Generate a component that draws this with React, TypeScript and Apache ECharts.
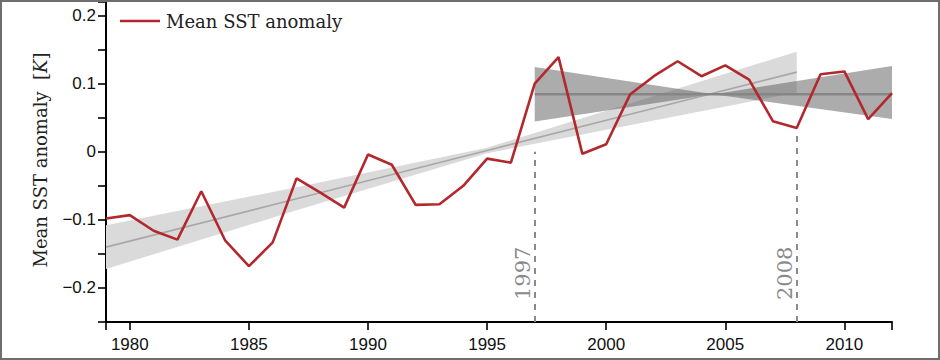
import React, { useEffect, useRef } from "react";
import * as echarts from "echarts";

const years = [
  1979, 1980, 1981, 1982, 1983, 1984, 1985, 1986, 1987, 1988, 1989, 1990,
  1991, 1992, 1993, 1994, 1995, 1996, 1997, 1998, 1999, 2000, 2001, 2002,
  2003, 2004, 2005, 2006, 2007, 2008, 2009, 2010, 2011, 2012,
];
const sstAnomaly = [
  -0.098, -0.093, -0.116, -0.129, -0.058, -0.13, -0.168, -0.133, -0.039,
  -0.06, -0.082, -0.004, -0.019, -0.078, -0.077, -0.05, -0.01, -0.016, 0.1,
  0.139, -0.003, 0.011, 0.084, 0.111, 0.133, 0.111, 0.127, 0.106, 0.045,
  0.035, 0.114, 0.118, 0.048, 0.086,
];

// long-term trend 1979-2008 and its band
const longYears = [1979, 1987, 1995, 2002, 2008];
const longTrend = [-0.14, -0.069, 0.002, 0.064, 0.117];
const longUpper = [-0.108, -0.052, 0.006, 0.082, 0.147];
const longLower = [-0.172, -0.086, -0.002, 0.046, 0.087];

// short-term trend 1997-2012 and its band
const shortYears = [1997, 2004.5, 2012];
const shortTrend = [0.0845, 0.0845, 0.0845];
const shortUpper = [0.1245, 0.0845, 0.126];
const shortLower = [0.0445, 0.0845, 0.048];

// marked years and the top of their dashed lines
const markYears = [1997, 2008];
const markTops = [0.0, 0.025];

const xLabelValues = [1980, 1985, 1990, 1995, 2000, 2005, 2010];
const yLabelValues = [-0.2, -0.1, 0, 0.1, 0.2];

const X_MIN = 1979;
const X_MAX = 2012;
const Y_MIN = -0.25;
const Y_MAX = 0.22;

const SANS = "'Liberation Sans', Arial, Helvetica, sans-serif";
const SERIF = "'DejaVu Serif', 'Liberation Serif', serif";

function bandSeries(xs: number[], up: number[], lo: number[], fill: string, z: number) {
  return {
    type: "custom",
    silent: true,
    z,
    data: [[xs[0], up[0]]],
    renderItem: (_params: any, api: any) => {
      const pts: number[][] = [];
      for (let i = 0; i < xs.length; i++) pts.push(api.coord([xs[i], up[i]]));
      for (let i = xs.length - 1; i >= 0; i--) pts.push(api.coord([xs[i], lo[i]]));
      return {
        type: "polygon",
        shape: { points: pts },
        style: { fill, stroke: "none" },
      };
    },
  };
}

export default function App() {
  const ref = useRef<HTMLDivElement>(null);

  useEffect(() => {
    if (!ref.current) return;
    const chart = echarts.init(ref.current, null, { renderer: "svg" });
    const fmtY = (v: number) => {
      if (Math.abs(v) < 1e-9) return "0";
      return (v < 0 ? "\u2212" : "") + Math.abs(v).toFixed(1);
    };
    chart.setOption({
      animation: false,
      backgroundColor: "#ffffff",
      grid: { left: 106, right: 48, top: 2, bottom: 38 },
      legend: {
        data: ["Mean SST anomaly"],
        left: 120,
        top: 12,
        padding: 0,
        icon: "rect",
        itemWidth: 40,
        itemHeight: 2.6,
        textStyle: { fontFamily: SERIF, fontSize: 18, color: "#222", padding: [0, 0, 0, 1] },
      },
      graphic: [
        {
          type: "rect",
          silent: true,
          z: 100,
          shape: { x: 1, y: 1, width: 938, height: 358 },
          style: { fill: "none", stroke: "#6e6e6e", lineWidth: 2 },
        },
        {
          type: "text",
          silent: true,
          x: 40,
          y: 160,
          rotation: Math.PI / 2,
          style: {
            text: "Mean SST anomaly  [{i|K}]",
            fontFamily: SERIF,
            fontSize: 18,
            fill: "#222",
            align: "center",
            verticalAlign: "middle",
            rich: { i: { fontFamily: SERIF, fontSize: 18, fontStyle: "italic", fill: "#222" } },
          },
        },
      ],
      xAxis: {
        type: "value",
        min: X_MIN,
        max: X_MAX,
        splitNumber: 6,
        splitLine: { show: false },
        axisLine: { show: true, onZero: false, lineStyle: { color: "#000", width: 2 } },
        axisTick: {
          show: true,
          inside: false,
          length: 8,
          lineStyle: { color: "#000", width: 1.6 },
        },
        axisLabel: {
          customValues: xLabelValues,
          margin: 14,
          fontFamily: SANS,
          fontSize: 17,
          color: "#111",
          formatter: (v: number) => String(v),
        },
      },
      yAxis: {
        type: "value",
        min: Y_MIN,
        max: Y_MAX,
        interval: 0.05,
        splitLine: { show: false },
        axisLine: { show: true, onZero: false, lineStyle: { color: "#000", width: 2 } },
        axisTick: {
          show: true,
          inside: false,
          length: 8,
          lineStyle: { color: "#000", width: 1.6 },
        },
        axisLabel: {
          customValues: yLabelValues,
          margin: 10,
          fontFamily: SANS,
          fontSize: 17,
          color: "#111",
          formatter: fmtY,
        },
      },
      series: [
        bandSeries(longYears, longUpper, longLower, "#dadada", 1),
        bandSeries(shortYears, shortUpper, shortLower, "rgba(90,90,90,0.5)", 2),
        {
          name: "long trend",
          type: "line",
          z: 3,
          silent: true,
          symbol: "none",
          data: longYears.map((y, i) => [y, longTrend[i]]),
          lineStyle: { color: "#a8a8a8", width: 1.6 },
          markLine: {
            silent: true,
            symbol: "none",
            lineStyle: { type: [6, 6], color: "#8a8a8a", width: 2 },
            label: {
              show: true,
              position: "insideStartTop",
              distance: [22, 1],
              formatter: "{b}",
              fontFamily: SERIF,
              fontSize: 21,
              color: "#8a8a8a",
            },
            data: markYears.map((y, i) => [
              { name: String(y), coord: [y, Y_MIN] },
              { coord: [y, markTops[i]] },
            ]),
          },
        },
        {
          name: "short trend",
          type: "line",
          z: 3,
          silent: true,
          symbol: "none",
          data: shortYears.map((y, i) => [y, shortTrend[i]]),
          lineStyle: { color: "#868686", width: 2.4 },
        },
        {
          name: "Mean SST anomaly",
          type: "line",
          z: 5,
          symbol: "none",
          data: years.map((y, i) => [y, sstAnomaly[i]]),
          lineStyle: { color: "#b3282d", width: 2.6 },
          itemStyle: { color: "#b3282d" },
        },
      ],
    });
    return () => chart.dispose();
  }, []);

  return (
    <div
      ref={ref}
      style={{ position: "fixed", left: 0, top: 0, width: 940, height: 360 }}
    />
  );
}
